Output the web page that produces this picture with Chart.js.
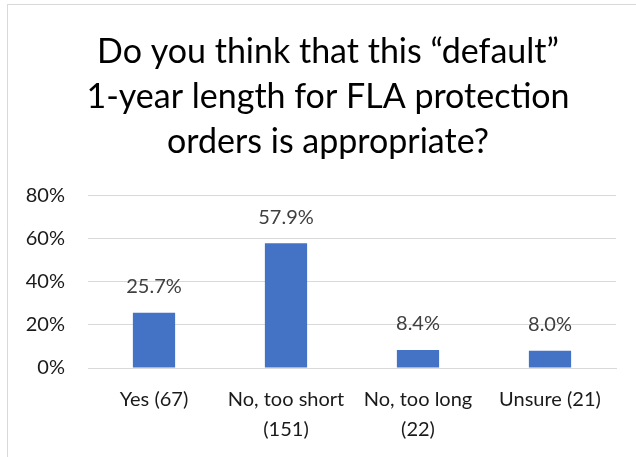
<!DOCTYPE html>
<html>
<head>
<meta charset="utf-8">
<script src="https://cdn.jsdelivr.net/npm/chart.js@4"></script>
<style>
  html, body { margin: 0; padding: 0; background: #fff; overflow: hidden; }
  #frame { position: absolute; left: 7px; top: 4px; width: 660px; height: 480px; border: 1px solid #d9d9d9; }
  #wrap { position: absolute; left: 0; top: 0; width: 636px; height: 457px; }
</style>
</head>
<body>
<div id="frame"></div>
<div id="wrap"><canvas id="chart" width="636" height="457"></canvas></div>
<script>
// Survey answers
const categories = [['Yes (67)'], ['No, too short', '(151)'], ['No, too long', '(22)'], ['Unsure (21)']];
const shares = [25.7, 57.9, 8.4, 8.0];
const yTicks = [0, 20, 40, 60, 80];
const titleLines = ['Do you think that this \u201cdefault\u201d', '1-year length for FLA protection', 'orders is appropriate?'];

const FONT = 'Lato, "Open Sans", sans-serif';

// draws the percentage above each bar
const valueLabels = {
    id: 'valueLabels',
    afterDatasetsDraw(chart) {
        const ctx = chart.ctx;
        const meta = chart.getDatasetMeta(0);
        ctx.save();
        ctx.font = '20px ' + FONT;
        ctx.fillStyle = '#404040';
        ctx.textAlign = 'center';
        ctx.textBaseline = 'middle';
        meta.data.forEach((bar, i) => {
            ctx.fillText(shares[i].toFixed(1) + '%', bar.x, bar.y - 26);
        });
        ctx.restore();
    }
};

new Chart(document.getElementById('chart').getContext('2d'), {
    type: 'bar',
    data: {
        labels: categories,
        datasets: [{
            data: shares,
            backgroundColor: '#4472c4',
            categoryPercentage: 1,
            barPercentage: 0.32
        }]
    },
    options: {
        responsive: false,
        animation: false,
        layout: { padding: { left: 24, right: 4, top: 0, bottom: 0 } },
        plugins: {
            legend: { display: false },
            tooltip: { enabled: false },
            title: {
                display: true,
                text: titleLines,
                color: '#000',
                font: { family: FONT, size: 34, weight: 'normal', lineHeight: 1.32 },
                padding: { top: 30, bottom: 31 }
            }
        },
        scales: {
            y: {
                min: 0,
                max: 80,
                afterFit(scale) { scale.width = 64; },
                afterBuildTicks(scale) { scale.ticks = yTicks.map(v => ({ value: v })); },
                ticks: {
                    color: '#1a1a1a',
                    font: { family: FONT, size: 20 },
                    padding: 23,
                    callback: v => v + '%'
                },
                grid: { color: '#d9d9d9', lineWidth: 1, drawTicks: false },
                border: { display: false }
            },
            // empty right axis, only keeps room at the right edge
            y2: {
                type: 'linear',
                position: 'right',
                afterFit(scale) { scale.width = 16; },
                ticks: { display: false },
                grid: { display: false, drawTicks: false },
                border: { display: false }
            },
            x: {
                afterFit(scale) { scale.height = 89; },
                ticks: {
                    color: '#1a1a1a',
                    font: { family: FONT, size: 20, lineHeight: 1.5 },
                    padding: 17,
                    maxRotation: 0,
                    autoSkip: false
                },
                grid: { display: false, drawTicks: false },
                border: { color: '#d9d9d9', width: 1 }
            }
        }
    },
    plugins: [valueLabels]
});
</script>
</body>
</html>
